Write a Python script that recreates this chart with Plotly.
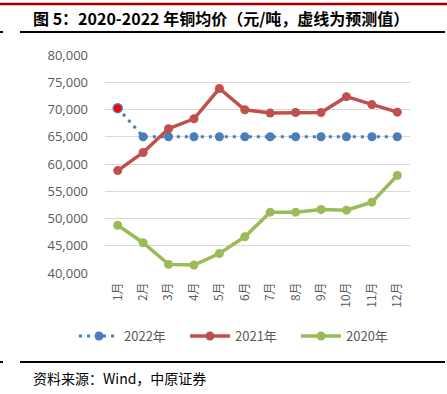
import plotly.graph_objects as go

months = ["1月", "2月", "3月", "4月", "5月", "6月", "7月", "8月", "9月", "10月", "11月", "12月"]
y2022 = [70250, 65000, 65000, 65000, 65000, 65000, 65000, 65000, 65000, 65000, 65000, 65000]
y2021 = [58790, 62120, 66470, 68300, 73850, 69950, 69340, 69450, 69450, 72350, 70900, 69510]
y2020 = [48770, 45550, 41580, 41470, 43580, 46650, 51160, 51160, 51650, 51530, 53000, 57890]
y_ticks = [40000, 45000, 50000, 55000, 60000, 65000, 70000, 75000, 80000]

W, H = 447, 394
ML, MR, MT, MB = 105, 37, 55, 121
PW, PH = W - ML - MR, H - MT - MB

def px(x):
    return (x - ML) / PW

def py(y):
    return (H - MB - y) / PH

BLUE = "#4A7EBB"
RED = "#C0504D"
GREEN = "#9BBB59"

fig = go.Figure()
fig.add_trace(go.Scatter(
    x=months, y=y2022, name="2022年", mode="lines+markers",
    line=dict(color=BLUE, width=3, dash="3px,5px"),
    marker=dict(size=9, color=BLUE),
))
fig.add_trace(go.Scatter(
    x=months[:1], y=y2022[:1], name="2022年", mode="markers", showlegend=False,
    marker=dict(size=9, color="#FF0000", line=dict(color=BLUE, width=1.5)),
))
fig.add_trace(go.Scatter(
    x=months, y=y2021, name="2021年", mode="lines+markers",
    line=dict(color=RED, width=3.5),
    marker=dict(size=9, color=RED),
))
fig.add_trace(go.Scatter(
    x=months, y=y2020, name="2020年", mode="lines+markers",
    line=dict(color=GREEN, width=3.5),
    marker=dict(size=9, color=GREEN),
))

fig.update_layout(
    width=W, height=H,
    margin=dict(l=ML, r=MR, t=MT, b=MB),
    paper_bgcolor="white", plot_bgcolor="white",
    font=dict(family="Open Sans, Noto Sans CJK SC", color="#595959"),
    showlegend=True,
    legend=dict(orientation="h", x=px(74), y=py(336), xanchor="left", yanchor="middle",
                font=dict(family="Noto Sans CJK SC", size=13, color="#595959"),
                itemwidth=40, entrywidth=56, traceorder="normal", bgcolor="rgba(0,0,0,0)"),
    xaxis=dict(type="category", range=[-0.5, 11.5], showgrid=False, showline=False,
               ticks="", tickangle=-90, ticklabelstandoff=6,
               tickfont=dict(family="Noto Sans CJK SC", size=12, color="#595959"),
               fixedrange=True),
    yaxis=dict(range=[40000, 80000], tickvals=y_ticks, tickformat=",d", showgrid=True,
               gridcolor="#D9D9D9", gridwidth=1, zeroline=False, showline=False,
               ticks="", ticklabelstandoff=16, tickfont=dict(family="Open Sans", size=13, color="#595959"),
               fixedrange=True),
    shapes=[
        dict(type="line", xref="paper", yref="paper", x0=px(0), x1=px(447), y0=py(4), y1=py(4),
             line=dict(color="#A00000", width=2.5)),
        dict(type="line", xref="paper", yref="paper", x0=px(20), x1=px(445), y0=py(32), y1=py(32),
             line=dict(color="#000000", width=2)),
        dict(type="line", xref="paper", yref="paper", x0=px(0), x1=px(3), y0=py(32), y1=py(32),
             line=dict(color="#000000", width=2)),
        dict(type="line", xref="paper", yref="paper", x0=px(20), x1=px(445), y0=py(362), y1=py(362),
             line=dict(color="#000000", width=2)),
        dict(type="line", xref="paper", yref="paper", x0=px(0), x1=px(3), y0=py(362), y1=py(362),
             line=dict(color="#000000", width=2)),
    ],
    annotations=[
        dict(text="<b>图 5：2020-2022 年铜均价（元/吨，虚线为预测值）</b>", xref="paper", yref="paper",
             x=px(31), y=py(18), xanchor="left", yanchor="middle", showarrow=False,
             font=dict(family="Noto Sans CJK SC", size=16, color="#000000")),
        dict(text="资料来源：Wind，中原证券", xref="paper", yref="paper",
             x=px(31), y=py(378), xanchor="left", yanchor="middle", showarrow=False,
             font=dict(family="Noto Sans CJK SC", size=14, color="#000000")),
    ],
)

fig.write_html("out.html", config={"displayModeBar": False},
               post_script="document.body.style.margin='0';")
